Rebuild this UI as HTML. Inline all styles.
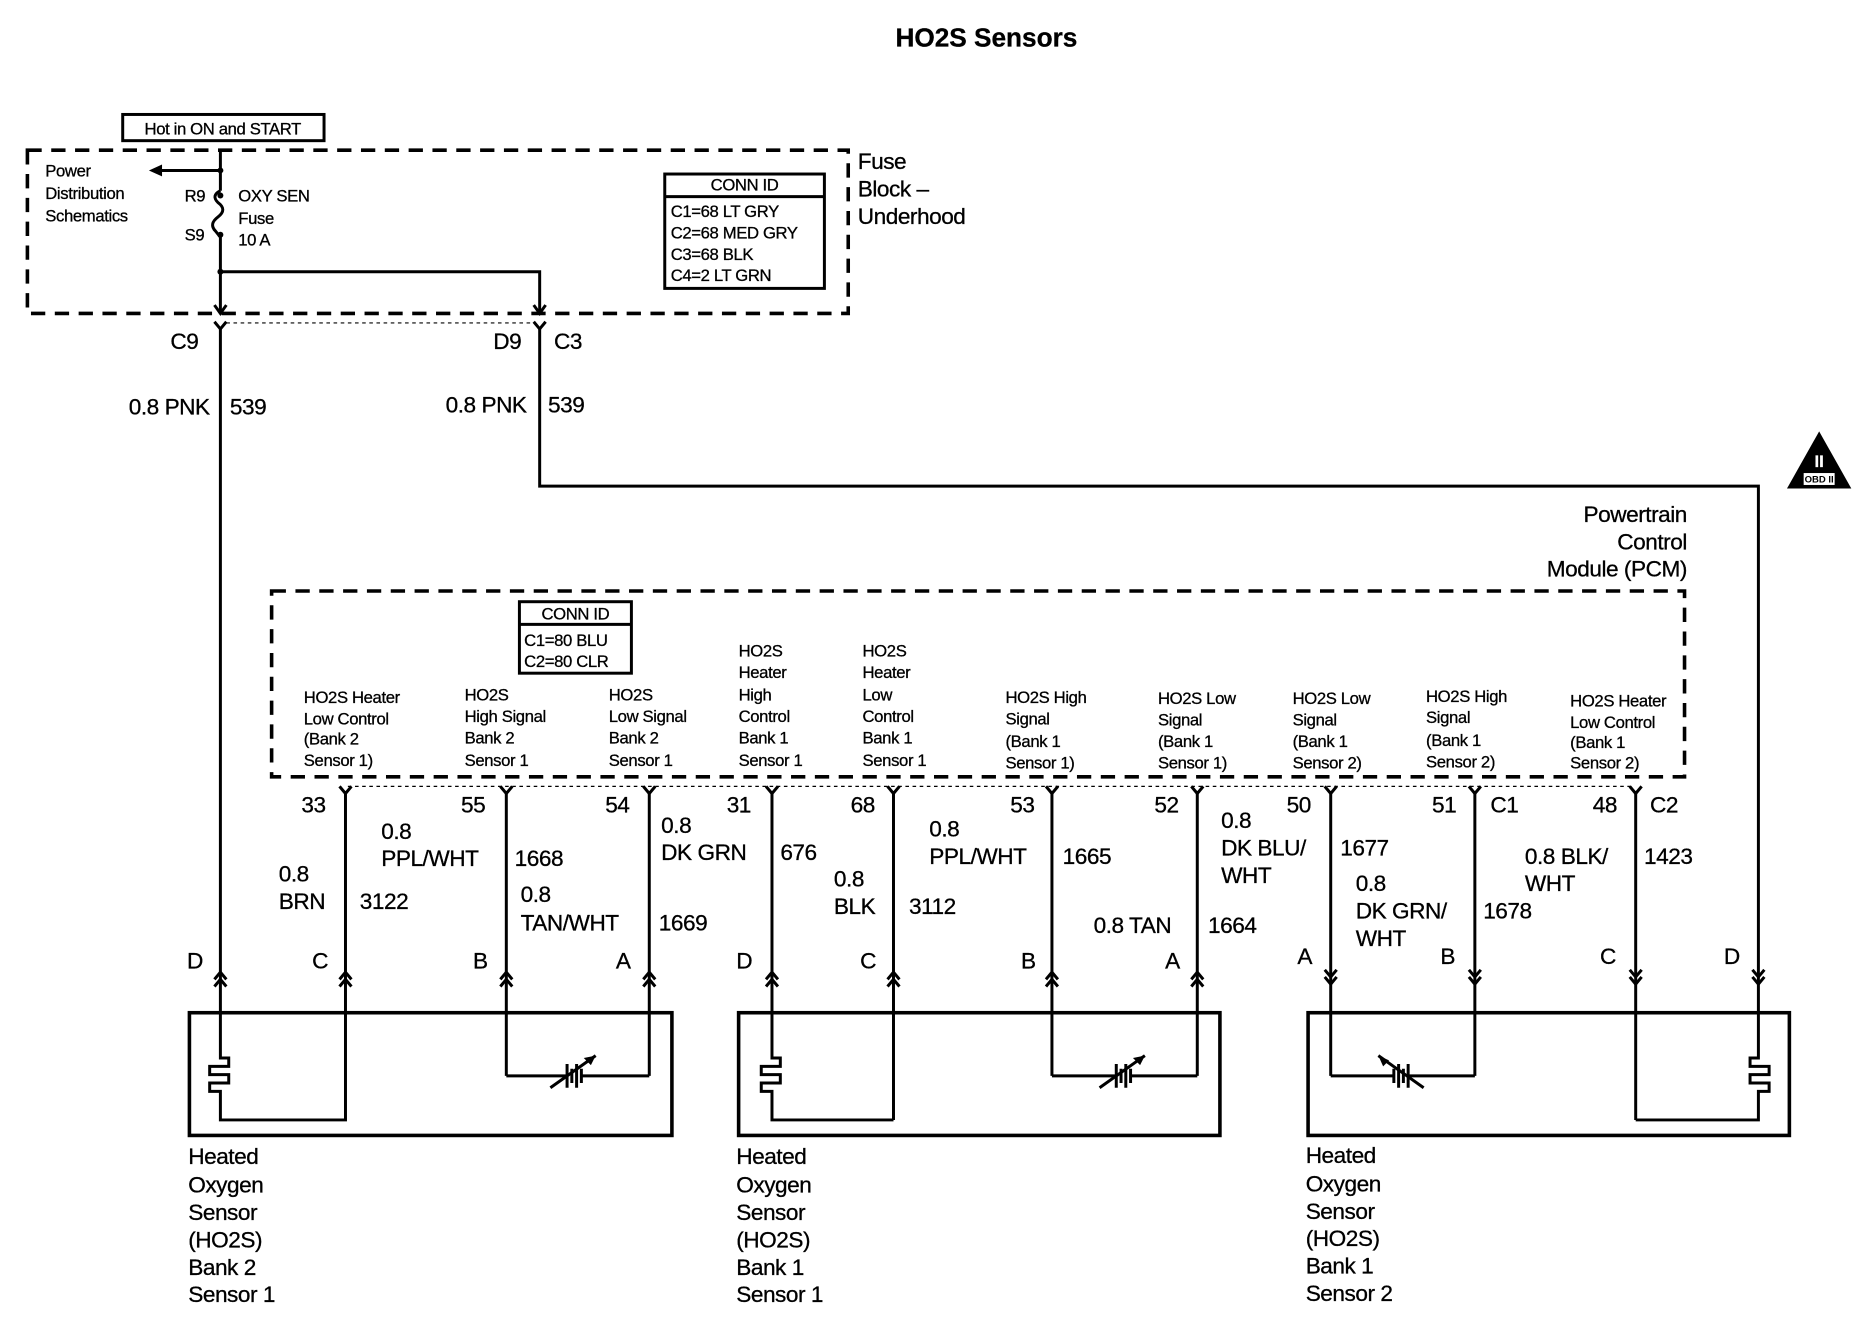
<!DOCTYPE html>
<html><head><meta charset="utf-8"><style>
html,body{margin:0;padding:0;background:#fff;}
svg{display:block;}
text{font-family:"Liberation Sans",Arial,sans-serif;fill:#000;stroke:#000;stroke-width:0.25px;}
.s{font-size:14px;letter-spacing:-0.3px;}
.m{font-size:19px;letter-spacing:-0.4px;}
</style></head><body>
<svg width="1868" height="1344" viewBox="0 0 1568 1128" xmlns="http://www.w3.org/2000/svg">
<g fill="none" stroke="#000" stroke-width="2.5">
<rect x="103" y="96" width="169" height="22" stroke-width="2.5"/>
<rect x="23" y="126" width="689" height="137" stroke-width="3" stroke-dasharray="12,8"/>
<line x1="185" y1="126" x2="185" y2="160"/>
<line x1="185" y1="143" x2="135" y2="143"/>
<path d="M185 160 q-8 4 -2 10 q8 6 0 12 q-8 6 -2 12 l4 5" />
<line x1="185" y1="197" x2="185" y2="263"/>
<polyline points="185,228 453,228 453,263"/>
<rect x="558" y="146" width="134" height="96"/>
<line x1="558" y1="165" x2="692" y2="165"/>
<path d="M180 256 L185 263 L190 256 M448 256 L453 263 L458 256"/>
<path d="M180 270 L185 276 L190 270 M448 270 L453 276 L458 270"/>
<line x1="190" y1="271" x2="448" y2="271" stroke-width="1" stroke-dasharray="3,3"/>
<line x1="185" y1="276" x2="185" y2="850"/>
<polyline points="453,276 453,408 1476,408 1476,850"/>
<rect x="228" y="496" width="1186" height="156" stroke-width="3" stroke-dasharray="12,8"/>
<rect x="436" y="505" width="94" height="60"/>
<line x1="436" y1="524" x2="530" y2="524"/>
<line x1="292" y1="660" x2="1370" y2="660" stroke-width="1" stroke-dasharray="3,3"/>
<path d="M285 660 L290 666 L295 660 M420 660 L425 666 L430 660 M540 660 L545 666 L550 660 M643 660 L648 666 L653 660 M745 660 L750 666 L755 660 M878 660 L883 666 L888 660 M1000 660 L1005 666 L1010 660 M1112 660 L1117 666 L1122 660 M1233 660 L1238 666 L1243 660 M1368 660 L1373 666 L1378 660"/>
<path d="M290 666V850 M425 666V903 M545 666V903 M648 666V850 M750 666V940 M883 666V903 M1005 666V903 M1117 666V903 M1238 666V903 M1373 666V940"/>
<path d="M180 822 L185 816 L190 822 M180 828 L185 822 L190 828
M285 822 L290 816 L295 822 M285 828 L290 822 L295 828
M420 822 L425 816 L430 822 M420 828 L425 822 L430 828
M540 822 L545 816 L550 822 M540 828 L545 822 L550 828
M643 822 L648 816 L653 822 M643 828 L648 822 L653 828
M745 822 L750 816 L755 822 M745 828 L750 822 L755 828
M878 822 L883 816 L888 822 M878 828 L883 822 L888 828
M1000 822 L1005 816 L1010 822 M1000 828 L1005 822 L1010 828"/>
<path d="M1112 814 L1117 820 L1122 814 M1112 820 L1117 826 L1122 820
M1233 814 L1238 820 L1243 814 M1233 820 L1238 826 L1243 820
M1368 814 L1373 820 L1378 814 M1368 820 L1373 826 L1378 820
M1471 814 L1476 820 L1481 814 M1471 820 L1476 826 L1481 820"/>
<rect x="159" y="850" width="405" height="103" stroke-width="3"/>
<rect x="620" y="850" width="404" height="103" stroke-width="3"/>
<rect x="1098" y="850" width="404" height="103" stroke-width="3"/>
<path d="M185 850V888 H192 V895 H176 V902 H192 V909 H176 V916 H185 V940 H290 V850"/>
<path d="M648 850V888 H655 V895 H639 V902 H655 V909 H639 V916 H648 V940 H750"/>
<path d="M1476 850V888 H1469 V895 H1485 V902 H1469 V909 H1485 V916 H1476 V940 H1373"/>
<path d="M425 903H476 M488 903H545 M476 893V913 M480 897V909 M484 893V913 M488 897V909"/>
<path d="M462 913 L500 886"/>
<path d="M883 903H937 M949 903H1005 M937 893V913 M941 897V909 M945 893V913 M949 897V909"/>
<path d="M923 913 L961 886"/>
<path d="M1117 903H1170 M1182 903H1238 M1170 897V909 M1174 893V913 M1178 897V909 M1182 893V913"/>
<path d="M1195 913 L1157 886"/>
</g>
<g fill="#000">
<polygon points="125,143 136,138 136,148"/>
<circle cx="185" cy="143" r="2.5"/><circle cx="185" cy="164" r="2.5"/><circle cx="185" cy="197" r="2.5"/><circle cx="185" cy="228" r="2.5"/>
<polygon points="500,886 490,888 496,894"/><polygon points="961,886 951,888 957,894"/><polygon points="1157,886 1161,895 1166,890"/>
<polygon points="1527,362 1500,410 1554,410"/>
</g>
<rect x="1514" y="397" width="26" height="10" fill="#fff"/>
<text x="1527" y="405" font-size="8" text-anchor="middle" font-weight="bold" style="stroke-width:0">OBD II</text>
<text x="1527" y="392" font-size="14" text-anchor="middle" font-weight="bold" style="fill:#fff;stroke:#fff">II</text>

<text x="828" y="39" font-size="22" font-weight="bold" text-anchor="middle">HO2S Sensors</text>
<text class="s" x="187" y="113" text-anchor="middle">Hot in ON and START</text>
<text class="s" x="38" y="148">Power</text><text class="s" x="38" y="167">Distribution</text><text class="s" x="38" y="186">Schematics</text>
<text class="s" x="155" y="169">R9</text><text class="s" x="155" y="202">S9</text>
<text class="s" x="200" y="169">OXY SEN</text><text class="s" x="200" y="188">Fuse</text><text class="s" x="200" y="206">10 A</text>
<text class="s" x="625" y="160" text-anchor="middle">CONN ID</text>
<text class="s" x="563" y="182">C1=68 LT GRY</text><text class="s" x="563" y="200">C2=68 MED GRY</text><text class="s" x="563" y="218">C3=68 BLK</text><text class="s" x="563" y="236">C4=2 LT GRN</text>
<text class="m" x="720" y="142">Fuse</text><text class="m" x="720" y="165">Block –</text><text class="m" x="720" y="188">Underhood</text>
<text class="m" x="143" y="293">C9</text><text class="m" x="414" y="293">D9</text><text class="m" x="465" y="293">C3</text>
<text class="m" x="176" y="348" text-anchor="end">0.8 PNK</text><text class="m" x="193" y="348">539</text>
<text class="m" x="442" y="346" text-anchor="end">0.8 PNK</text><text class="m" x="460" y="346">539</text>
<g class="m" text-anchor="end"><text x="1416" y="438">Powertrain</text><text x="1416" y="461">Control</text><text x="1416" y="484">Module (PCM)</text></g>
<text class="s" x="483" y="520" text-anchor="middle">CONN ID</text>
<text class="s" x="440" y="542">C1=80 BLU</text><text class="s" x="440" y="560">C2=80 CLR</text>
<g class="s">
<text x="255" y="590">HO2S Heater</text><text x="255" y="608">Low Control</text><text x="255" y="625">(Bank 2</text><text x="255" y="643">Sensor 1)</text>
<text x="390" y="588">HO2S</text><text x="390" y="606">High Signal</text><text x="390" y="624">Bank 2</text><text x="390" y="643">Sensor 1</text>
<text x="511" y="588">HO2S</text><text x="511" y="606">Low Signal</text><text x="511" y="624">Bank 2</text><text x="511" y="643">Sensor 1</text>
<text x="620" y="551">HO2S</text><text x="620" y="569">Heater</text><text x="620" y="588">High</text><text x="620" y="606">Control</text><text x="620" y="624">Bank 1</text><text x="620" y="643">Sensor 1</text>
<text x="724" y="551">HO2S</text><text x="724" y="569">Heater</text><text x="724" y="588">Low</text><text x="724" y="606">Control</text><text x="724" y="624">Bank 1</text><text x="724" y="643">Sensor 1</text>
<text x="844" y="590">HO2S High</text><text x="844" y="608">Signal</text><text x="844" y="627">(Bank 1</text><text x="844" y="645">Sensor 1)</text>
<text x="972" y="591">HO2S Low</text><text x="972" y="609">Signal</text><text x="972" y="627">(Bank 1</text><text x="972" y="645">Sensor 1)</text>
<text x="1085" y="591">HO2S Low</text><text x="1085" y="609">Signal</text><text x="1085" y="627">(Bank 1</text><text x="1085" y="645">Sensor 2)</text>
<text x="1197" y="589">HO2S High</text><text x="1197" y="607">Signal</text><text x="1197" y="626">(Bank 1</text><text x="1197" y="644">Sensor 2)</text>
<text x="1318" y="593">HO2S Heater</text><text x="1318" y="611">Low Control</text><text x="1318" y="628">(Bank 1</text><text x="1318" y="645">Sensor 2)</text>
</g>
<g class="m">
<text x="253" y="682">33</text><text x="387" y="682">55</text><text x="508" y="682">54</text><text x="610" y="682">31</text><text x="714" y="682">68</text><text x="848" y="682">53</text><text x="969" y="682">52</text><text x="1080" y="682">50</text><text x="1202" y="682">51</text><text x="1251" y="682">C1</text><text x="1337" y="682">48</text><text x="1385" y="682">C2</text>
<text x="234" y="740">0.8</text><text x="234" y="763">BRN</text><text x="302" y="763">3122</text>
<text x="320" y="704">0.8</text><text x="320" y="727">PPL/WHT</text><text x="432" y="727">1668</text>
<text x="437" y="757">0.8</text><text x="437" y="781">TAN/WHT</text><text x="553" y="781">1669</text>
<text x="555" y="699">0.8</text><text x="555" y="722">DK GRN</text><text x="655" y="722">676</text>
<text x="700" y="744">0.8</text><text x="700" y="767">BLK</text><text x="763" y="767">3112</text>
<text x="780" y="702">0.8</text><text x="780" y="725">PPL/WHT</text><text x="892" y="725">1665</text>
<text x="918" y="783">0.8 TAN</text><text x="1014" y="783">1664</text>
<text x="1025" y="695">0.8</text><text x="1025" y="718">DK BLU/</text><text x="1025" y="741">WHT</text><text x="1125" y="718">1677</text>
<text x="1138" y="748">0.8</text><text x="1138" y="771">DK GRN/</text><text x="1138" y="794">WHT</text><text x="1245" y="771">1678</text>
<text x="1280" y="725">0.8 BLK/</text><text x="1280" y="748">WHT</text><text x="1380" y="725">1423</text>
<text x="157" y="813">D</text><text x="262" y="813">C</text><text x="397" y="813">B</text><text x="517" y="813">A</text>
<text x="618" y="813">D</text><text x="722" y="813">C</text><text x="857" y="813">B</text><text x="978" y="813">A</text>
<text x="1089" y="809">A</text><text x="1209" y="809">B</text><text x="1343" y="809">C</text><text x="1447" y="809">D</text>
<text x="158" y="977">Heated</text><text x="158" y="1001">Oxygen</text><text x="158" y="1024">Sensor</text><text x="158" y="1047">(HO2S)</text><text x="158" y="1070">Bank 2</text><text x="158" y="1093">Sensor 1</text>
<text x="618" y="977">Heated</text><text x="618" y="1001">Oxygen</text><text x="618" y="1024">Sensor</text><text x="618" y="1047">(HO2S)</text><text x="618" y="1070">Bank 1</text><text x="618" y="1093">Sensor 1</text>
<text x="1096" y="976">Heated</text><text x="1096" y="1000">Oxygen</text><text x="1096" y="1023">Sensor</text><text x="1096" y="1046">(HO2S)</text><text x="1096" y="1069">Bank 1</text><text x="1096" y="1092">Sensor 2</text>
</g>
</svg>
</body></html>
